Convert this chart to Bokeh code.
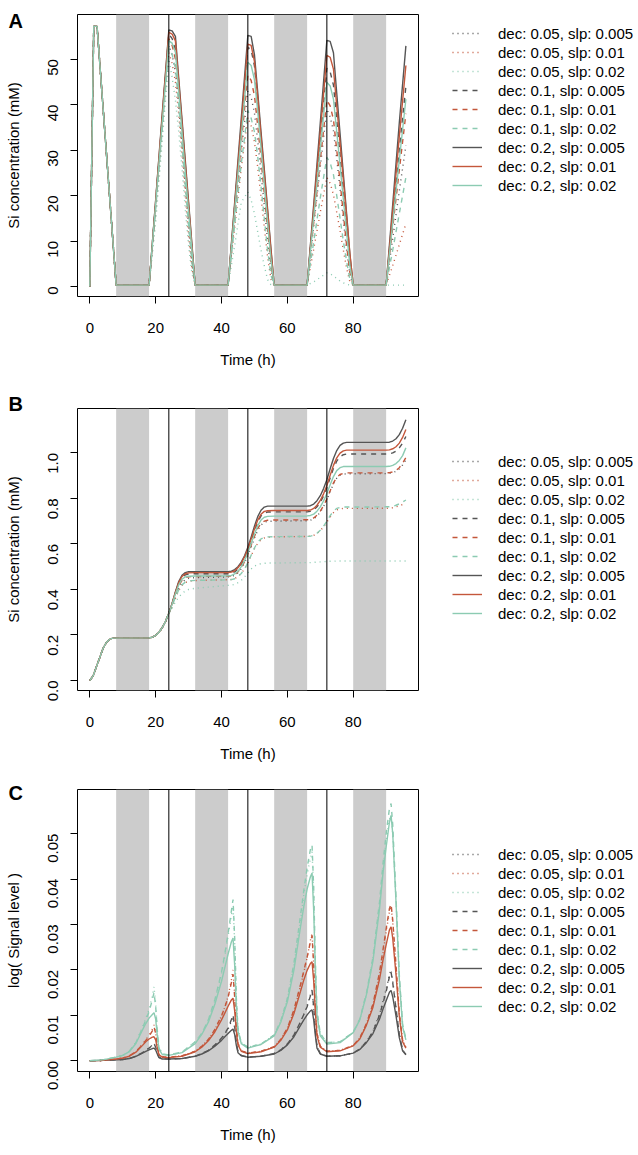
import math
from bokeh.plotting import figure
from bokeh.models import (Range1d, Legend, LegendItem, Label, BoxAnnotation, Span,
                          FixedTicker, PrintfTickFormatter)
from bokeh.layouts import column, row
from bokeh.embed import file_html
from bokeh.resources import INLINE

FONT = "Liberation Sans"

# ---------------- shared annotations data ----------------
night_start = [8, 32, 56, 80]
night_end = [18, 42, 66, 90]
day_lines = [24, 48, 72]
x_ticks = [0, 20, 40, 60, 80]

series_labels = ["dec: 0.05, slp: 0.005", "dec: 0.05, slp: 0.01", "dec: 0.05, slp: 0.02",
                 "dec: 0.1, slp: 0.005", "dec: 0.1, slp: 0.01", "dec: 0.1, slp: 0.02",
                 "dec: 0.2, slp: 0.005", "dec: 0.2, slp: 0.01", "dec: 0.2, slp: 0.02"]

# ---------------- Panel A: Si concentration (mM) ----------------
tA = [0, 1.2, 2.2, 8, 18, 20, 22, 24, 25, 26, 27, 28, 29, 30, 31, 32,
      42, 44, 46, 48, 49, 50, 51, 52, 53, 54, 55, 56,
      66, 68, 70, 72, 73, 74, 75, 76, 77, 78, 79, 80, 90, 92, 94, 96]
a1 = [0, 57.2, 57.2, 0.3,
      0.3, 17.5, 35, 53, 51, 47, 40, 31, 22, 13, 5, 0.3,
      0.3, 15, 29.5, 43, 41.6, 38.2, 32, 25, 17.6, 10, 3.5, 0.3,
      0.3, 13.3, 26.3, 39, 37.3, 34.2, 28, 21.5, 14.6, 8, 2.5, 0.3,
      0.3, 10.5, 21, 31]
a2 = [0, 57.2, 57.2, 0.3,
      0.3, 16.5, 34, 51.5, 49, 45, 38, 29, 20, 11, 4, 0.3,
      0.3, 13, 26, 37.2, 35.3, 31.8, 26.2, 19.6, 13, 6.5, 1.6, 0.3,
      0.3, 8.2, 16.3, 24, 22.7, 20.2, 16.3, 12.2, 8, 4, 1, 0.3,
      0.3, 4.6, 9.2, 13.8]
a3 = [0, 57.2, 57.2, 0.3,
      0.3, 14, 32, 50, 46, 41, 34, 26, 17, 9, 3, 0.3,
      0.3, 9, 18.5, 20.8, 19, 16, 12, 8, 4.5, 1.5, 0.4, 0.3,
      0.3, 1, 2, 3, 2.8, 2.3, 1.8, 1.2, 0.8, 0.5, 0.3, 0.3,
      0.3, 0.3, 0.3, 0.3]
a4 = [0, 57.2, 57.2, 0.3,
      0.3, 18.5, 37, 55.5, 54.5, 52, 44, 35, 26, 17, 8.5, 0.3,
      0.3, 17.5, 35, 52.6, 52, 48.5, 40.8, 32.5, 24, 15.5, 7, 0.3,
      0.3, 16.3, 32.5, 48, 47.2, 44.3, 36.7, 29, 21.2, 13.3, 5.5, 0.3,
      0.3, 15, 30, 44]
a5 = [0, 57.2, 57.2, 0.3,
      0.3, 18, 36, 54.5, 53, 50, 42, 33, 24, 15.5, 7, 0.3,
      0.3, 16, 31.5, 46.5, 45.3, 42, 35.3, 28, 20.3, 12.5, 5, 0.3,
      0.3, 14, 27.8, 41, 39.7, 36.7, 30, 23, 16, 9, 3, 0.3,
      0.3, 13, 25.6, 38]
a6 = [0, 57.2, 57.2, 0.3,
      0.3, 17, 34.5, 52.5, 51, 48, 40, 31, 22, 13.5, 5.5, 0.3,
      0.3, 13.5, 27, 38.7, 37, 34, 28.5, 22, 15, 8, 2.5, 0.3,
      0.3, 9.8, 19.5, 28.4, 27.2, 24.6, 20, 15, 10, 5.5, 1.5, 0.3,
      0.3, 8, 16, 24]
a7 = [0, 57.2, 57.2, 0.3,
      0.3, 19, 38, 56.4, 56.2, 55, 45.9, 36.8, 27.7, 18.6, 9.5, 0.3,
      0.3, 18.5, 37, 55.2, 55, 51, 42.7, 34, 25.7, 17, 8.5, 0.3,
      0.3, 18, 36, 54.1, 53.9, 51.4, 42.5, 33.7, 24.8, 16, 7.1, 0.3,
      0.3, 18, 36, 52.9]
a8 = [0, 57.2, 57.2, 0.3,
      0.3, 18.8, 37.5, 55.9, 55.5, 54, 45, 36, 27, 18, 9, 0.3,
      0.3, 17.8, 35.5, 53.3, 53, 49.5, 41.5, 33, 24.8, 16.4, 8, 0.3,
      0.3, 17, 34, 50.8, 50.4, 47.8, 39.7, 31.6, 23.5, 15.3, 7, 0.3,
      0.3, 16.5, 33, 48.6]
a9 = [0, 57.2, 57.2, 0.3,
      0.3, 18, 36, 54, 53.5, 51.5, 43, 34, 25, 16.5, 8, 0.3,
      0.3, 16.5, 33, 49.3, 48.6, 45.5, 38.5, 30.5, 22.3, 14, 6, 0.3,
      0.3, 15.2, 30.2, 44.9, 44.1, 41.2, 34, 26.6, 19.2, 11.8, 4.5, 0.3,
      0.3, 14, 27.8, 41.2]
yticks_A = [0, 10, 20, 30, 40, 50]

# ---------------- Panel B: Si concentration (mM) ----------------
tB = [0, 1, 2, 3, 4, 5, 6, 7, 18, 19, 20, 21, 22, 23, 24,
      25, 26, 27, 28, 29, 30, 32, 42,
      43, 44, 45, 46, 47, 48, 49, 50, 51, 52, 53, 54, 56, 66,
      67, 68, 69, 70, 71, 72, 73, 74, 75, 76, 77, 78, 80, 90,
      91, 92, 93, 94, 95, 96]
b_day1 = [0, 0.02, 0.06, 0.10, 0.14, 0.167, 0.181, 0.186, 0.187, 0.19, 0.198, 0.212, 0.232, 0.26, 0.295]
b1 = b_day1 + [.33, .37, .405, .43, .443, .449, .452, .455,
               .457, .462, .473, .491, .516, .548, .586, .625, .66, .683, .695, .699, .70, .702,
               .704, .71, .722, .74, .764, .794, .83, .864, .889, .902, .907, .908, .908, .909,
               .91, .913, .919, .93, .947, .97]
b2 = b_day1 + [.326, .362, .395, .418, .43, .436, .439, .443,
               .444, .448, .457, .471, .49, .516, .548, .578, .603, .618, .626, .629, .631, .633,
               .634, .638, .646, .658, .675, .696, .718, .737, .749, .754, .756, .756, .756, .757,
               .757, .759, .763, .768, .773, .778]
b3 = b_day1 + [.318, .345, .366, .382, .393, .40, .405, .418,
               .419, .422, .43, .44, .455, .472, .49, .502, .51, .513, .515, .516, .516, .518,
               .518, .519, .52, .521, .522, .523, .524, .524, .525, .525, .525, .525, .525, .525,
               .525, .525, .525, .525, .525, .525]
b4 = b_day1 + [.337, .385, .428, .453, .464, .468, .469, .469,
               .471, .477, .49, .51, .537, .572, .614, .657, .697, .723, .736, .740, .741, .741,
               .743, .749, .763, .783, .811, .847, .89, .932, .964, .983, .992, .995, .995, .995,
               .996, 1.0, 1.008, 1.022, 1.043, 1.072]
b5 = b_day1 + [.334, .378, .417, .44, .452, .456, .457, .458,
               .46, .465, .477, .496, .522, .555, .594, .633, .668, .69, .70, .704, .705, .706,
               .708, .714, .726, .744, .768, .798, .834, .868, .892, .905, .91, .912, .912, .912,
               .913, .916, .923, .935, .954, .98]
b6 = b_day1 + [.328, .365, .398, .42, .432, .438, .44, .442,
               .443, .447, .456, .47, .49, .518, .55, .582, .608, .622, .629, .631, .632, .633,
               .634, .638, .647, .66, .678, .70, .724, .744, .756, .76, .762, .762, .762, .763,
               .763, .765, .77, .776, .784, .793]
b7 = b_day1 + [.34, .39, .435, .462, .474, .478, .478, .478,
               .48, .487, .50, .52, .548, .585, .63, .678, .72, .748, .762, .766, .766, .766,
               .768, .775, .79, .812, .843, .882, .93, .975, 1.01, 1.033, 1.043, 1.046, 1.046, 1.046,
               1.047, 1.052, 1.062, 1.08, 1.108, 1.146]
b8 = b_day1 + [.338, .387, .43, .457, .469, .473, .474, .474,
               .476, .482, .495, .515, .543, .578, .621, .665, .705, .73, .743, .746, .747, .747,
               .749, .756, .77, .791, .82, .857, .902, .945, .978, .999, 1.009, 1.012, 1.012, 1.012,
               1.013, 1.018, 1.027, 1.043, 1.068, 1.103]
b9 = b_day1 + [.335, .38, .42, .445, .455, .458, .459, .46,
               .462, .468, .48, .5, .527, .561, .602, .643, .68, .705, .717, .721, .722, .723,
               .725, .731, .744, .763, .789, .821, .86, .896, .922, .935, .94, .94, .94, .94,
               .941, .945, .953, .967, .988, 1.022]
yticks_B = [0.0, 0.2, 0.4, 0.6, 0.8, 1.0]

# ---------------- Panel C: log( Signal level ) ----------------
tC = [0, 4, 8, 10, 12, 14, 16, 17, 18, 19, 19.5, 20, 20.5, 21, 22,
      24, 28, 32, 34, 36, 38, 40, 41, 42, 43, 43.5, 44, 44.5, 45, 46,
      48, 52, 56, 58, 60, 62, 64, 65, 66, 67, 67.5, 68, 68.5, 69, 70,
      72, 76, 80, 82, 84, 86, 88, 89, 90, 91, 91.5, 92, 93, 94, 95, 96]
c1 = [0, .0001, .0002, .0003, .0005, .001, .0018, .0023, .0028, .0035, .0039, .003, .0017, .0008, .0005,
      .0004, .0005, .001, .0016, .0023, .0034, .0049, .0059, .007, .0087, .0095, .0072, .0039, .002, .0012,
      .0008, .001, .0016, .0024, .0037, .0057, .0086, .0103, .0121, .0145, .0156, .012, .0067, .0032, .0016,
      .001, .0011, .0017, .0026, .0042, .0065, .0103, .013, .0157, .019, .020, .0176, .0117, .0059, .0024, .0014]
c2 = [0, .0001, .0004, .0006, .0011, .002, .0037, .0046, .0056, .007, .0079, .0062, .0034, .0015, .0009,
      .0008, .0011, .0021, .0032, .0047, .0069, .0099, .0118, .0142, .0178, .020, .0145, .0077, .0038, .0022,
      .0017, .0021, .0031, .0047, .0071, .011, .0165, .0195, .0227, .0265, .0281, .0215, .0122, .006, .0032,
      .0021, .0023, .0034, .005, .0081, .0123, .019, .0235, .0283, .0328, .034, .0305, .0207, .0103, .0045, .003]
c3 = [0, .0002, .0008, .0012, .0021, .0041, .0074, .0093, .0113, .0142, .0163, .0125, .0068, .003, .0016,
      .0013, .0019, .0042, .006, .009, .0133, .0192, .023, .0275, .032, .034, .026, .0135, .007, .004,
      .003, .0037, .0057, .0087, .0135, .021, .031, .0365, .041, .0445, .046, .037, .021, .0105, .006,
      .004, .0042, .0063, .0091, .0146, .0225, .0345, .042, .0485, .053, .054, .05, .0355, .0185, .008, .0048]
c4 = [0, .0001, .0002, .0003, .0005, .001, .0018, .0023, .0028, .0034, .0038, .003, .0017, .0008, .0005,
      .0004, .0005, .001, .0016, .0023, .0035, .005, .006, .0072, .0091, .0101, .0075, .004, .002, .0012,
      .0008, .001, .0016, .0024, .0037, .0057, .0086, .0102, .0119, .0143, .0155, .0118, .0066, .0032, .0016,
      .001, .0011, .0017, .0026, .0042, .0064, .0101, .0126, .0152, .0185, .0195, .0172, .0115, .0058, .0024, .0014]
c5 = [0, .0001, .0004, .0006, .0011, .002, .0036, .0045, .0054, .0066, .0075, .006, .0033, .0015, .0009,
      .0008, .0011, .0021, .0032, .0047, .0069, .0099, .0118, .014, .0172, .019, .014, .0075, .0038, .0022,
      .0017, .0021, .0031, .0047, .0072, .0112, .0168, .0198, .0228, .0262, .0275, .021, .012, .006, .0032,
      .0021, .0023, .0034, .005, .0082, .0125, .0195, .0242, .029, .0335, .0345, .031, .021, .0105, .0045, .003]
c6 = [0, .0002, .0008, .0012, .0021, .004, .0072, .009, .0108, .0135, .015, .012, .0065, .0028, .0015,
      .0013, .0019, .0042, .006, .009, .0135, .0195, .0235, .028, .033, .0355, .027, .014, .007, .004,
      .003, .0037, .0057, .0088, .0137, .0215, .032, .0375, .0425, .0465, .0475, .038, .022, .011, .006,
      .004, .0042, .0063, .0092, .0148, .0228, .035, .043, .05, .0555, .0566, .052, .036, .019, .008, .0049]
c7 = [0, .0001, .0002, .0003, .0005, .001, .0017, .0021, .0024, .0027, .0028, .0024, .0015, .0007, .0004,
      .0004, .0005, .001, .0015, .0022, .0032, .0045, .0053, .006, .0067, .007, .0058, .0034, .0018, .0011,
      .0008, .001, .0015, .0023, .0035, .0053, .0078, .009, .0101, .011, .0112, .009, .0056, .0028, .0015,
      .001, .0011, .0017, .0025, .004, .006, .0092, .0113, .0132, .0151, .0155, .0141, .0099, .0051, .0022, .0013]
c8 = [0, .0001, .0004, .0006, .001, .0019, .0034, .0042, .0048, .0052, .0053, .0046, .0028, .0013, .0008,
      .0007, .001, .002, .003, .0044, .0064, .009, .0105, .012, .0134, .0138, .011, .0065, .0035, .0021,
      .0016, .002, .003, .0045, .0068, .0104, .0153, .0178, .0199, .0214, .0218, .0175, .011, .0055, .003,
      .002, .0022, .0033, .0048, .0078, .0118, .018, .022, .0255, .0288, .0295, .027, .019, .0098, .0042, .0028]
c9 = [0, .0002, .0008, .0012, .002, .0038, .0068, .0082, .0094, .0102, .0106, .0092, .0055, .0025, .0014,
      .0012, .0018, .0038, .0058, .0085, .0125, .0175, .0205, .0235, .0262, .027, .021, .012, .0065, .0038,
      .0028, .0036, .0055, .0085, .013, .02, .0295, .034, .0378, .0405, .0413, .033, .02, .01, .0055,
      .0037, .004, .0062, .009, .0145, .022, .0335, .041, .047, .0525, .054, .05, .035, .018, .0075, .0046]
yticks_C = [0.00, 0.01, 0.02, 0.03, 0.04, 0.05]

# ---------------- styles ----------------
DARK, RED, TEAL = "#555555", "#C4573B", "#8CCBB2"
line_colors = [DARK, RED, TEAL] * 3
line_dashes = ["1 4"] * 3 + ["5 5"] * 3 + ["solid"] * 3

H = 385          # height of each panel row
LEFT_W = 33      # strip holding the panel letter and the y-axis title
AX_W = 44        # y-axis area of the main plot
MAIN_W = AX_W + 341 + 1
LEG_W = 638 - LEFT_W - MAIN_W


def bare_figure(w, xr=(0, 1), yr=(0, 1)):
    f = figure(width=w, height=H, output_backend="svg", toolbar_location=None,
               x_axis_type=None, y_axis_type=None, min_border=0,
               x_range=Range1d(*xr), y_range=Range1d(*yr))
    try:
        f.frame_align = False
    except Exception:
        pass
    f.outline_line_color = None
    f.background_fill_color = "white"
    f.border_fill_color = "white"
    return f


def make_panel(t, ys, y_range, yticks, yfmt, ylabel, letter, top, letter_base, legend_first_row):
    # ---------- left strip: panel letter + y title ----------
    fl = bare_figure(LEFT_W)
    fl.add_layout(Label(x=8, y=H - letter_base, x_units="screen", y_units="screen", text=letter,
                        text_align="left", text_baseline="alphabetic", text_font=FONT,
                        text_font_size="20px", text_font_style="bold", text_color="black"))
    fl.add_layout(Label(x=13, y=H - (top + 141), x_units="screen", y_units="screen", text=ylabel,
                        angle=math.pi / 2, text_align="center", text_baseline="middle",
                        text_font=FONT, text_font_size="15px", text_color="black"))

    # ---------- main plot ----------
    p = figure(width=MAIN_W, height=H, output_backend="svg", toolbar_location=None,
               x_range=Range1d(-3.74, 99.83), y_range=Range1d(*y_range),
               min_border_left=AX_W, min_border_right=1, min_border_top=top,
               min_border_bottom=H - top - 282)
    p.background_fill_color = "white"
    p.border_fill_color = "white"
    p.outline_line_color = "black"
    p.outline_line_width = 1
    p.xgrid.visible = False
    p.ygrid.visible = False

    for s, e in zip(night_start, night_end):
        p.add_layout(BoxAnnotation(left=s, right=e, fill_color="#CCCCCC", fill_alpha=1.0,
                                   line_color=None, level="underlay"))

    for y, c, d in zip(ys, line_colors, line_dashes):
        p.line(t, y, line_color=c, line_dash=d, line_width=1.4)

    for v in day_lines:
        p.add_layout(Span(location=v, dimension="height", line_color="black", line_width=1))

    xa = p.xaxis[0]
    xa.ticker = FixedTicker(ticks=x_ticks)
    xa.axis_line_color = None
    xa.major_tick_out = 7
    xa.major_tick_in = 0
    xa.minor_tick_line_color = None
    xa.major_label_text_font = FONT
    xa.major_label_text_font_size = "15px"
    xa.major_label_text_color = "black"
    xa.major_label_standoff = 19
    xa.axis_label = "Time (h)"
    xa.axis_label_text_font = FONT
    xa.axis_label_text_font_size = "15px"
    xa.axis_label_text_font_style = "normal"
    xa.axis_label_text_color = "black"
    xa.axis_label_standoff = 15

    ya = p.yaxis[0]
    ya.ticker = FixedTicker(ticks=yticks)
    if yfmt:
        ya.formatter = PrintfTickFormatter(format=yfmt)
    ya.axis_line_color = None
    ya.major_tick_out = 7
    ya.major_tick_in = 0
    ya.minor_tick_line_color = None
    ya.major_label_orientation = math.pi / 2
    ya.major_label_text_font = FONT
    ya.major_label_text_font_size = "15px"
    ya.major_label_text_color = "black"
    ya.major_label_standoff = 17

    # ---------- legend strip (same series, drawn outside its visible range) ----------
    fr = bare_figure(LEG_W, xr=(1000, 1001), yr=(1000, 1001))
    leg_renderers = []
    for y, c, d in zip(ys, line_colors, line_dashes):
        leg_renderers.append(fr.line(t, y, line_color=c, line_dash=d, line_width=1.4))
    items = [LegendItem(label=lab, renderers=[r]) for lab, r in zip(series_labels, leg_renderers)]
    legend_bottom = H - (legend_first_row - 9 + 170)
    leg = Legend(items=items, location=(33, legend_bottom), orientation="vertical",
                 border_line_color=None, background_fill_alpha=0, padding=0, margin=0,
                 spacing=1, glyph_width=30, glyph_height=18, label_height=18,
                 label_standoff=16, label_text_font=FONT, label_text_font_size="15px",
                 label_text_color="black")
    fr.add_layout(leg)

    return row(fl, p, fr, spacing=0)


rowA = make_panel(tA, [a1, a2, a3, a4, a5, a6, a7, a8, a9], (-2.2, 59.8), yticks_A, None,
                  "Si concentration (mM)", "A", 14, 20, 33)
rowB = make_panel(tB, [b1, b2, b3, b4, b5, b6, b7, b8, b9], (-0.044, 1.195), yticks_B, "%.1f",
                  "Si concentration (mM)", "B", 23, 18, 76)
rowC = make_panel(tC, [c1, c2, c3, c4, c5, c6, c7, c8, c9], (-0.00235, 0.0597), yticks_C, "%.2f",
                  "log( Signal level )", "C", 19, 22, 84)

layout = column(rowA, rowB, rowC, spacing=0)
open("out.html", "w").write(file_html(layout, INLINE))
